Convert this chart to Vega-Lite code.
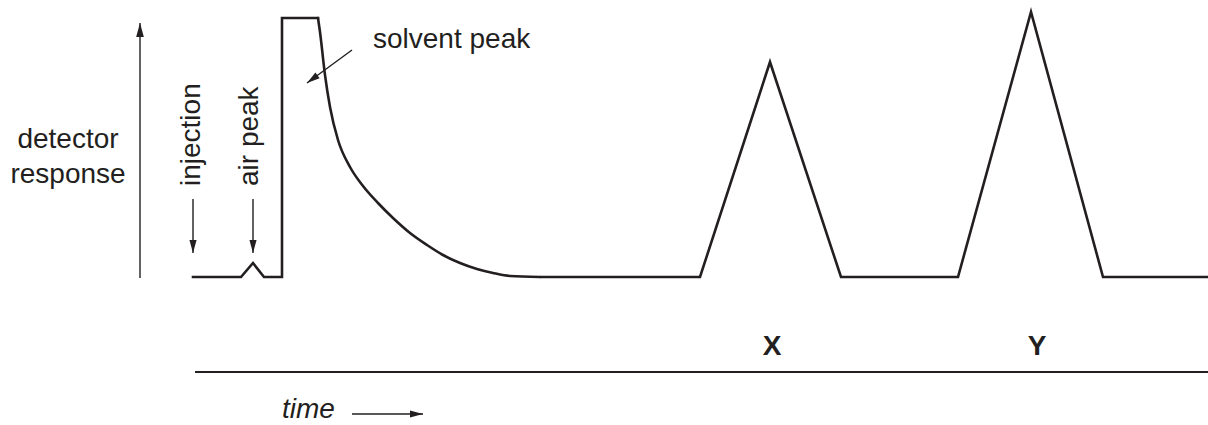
{
  "$schema": "https://vega.github.io/schema/vega-lite/v6.json",
  "width": 1208,
  "height": 425,
  "padding": 0,
  "autosize": {"type": "none"},
  "background": "white",
  "config": {"view": {"stroke": null}},
  "datasets": {
    "trace": [
      {"i": 1, "t": 193, "r": 0},
      {"i": 2, "t": 241, "r": 0},
      {"i": 3, "t": 253, "r": 14},
      {"i": 4, "t": 264, "r": 0},
      {"i": 5, "t": 282, "r": 0},
      {"i": 6, "t": 282, "r": 259},
      {"i": 7, "t": 318, "r": 259}
    ],
    "decay": [
      {"t": 318, "r": 259},
      {"t": 320, "r": 245},
      {"t": 325, "r": 202},
      {"t": 330, "r": 170},
      {"t": 338, "r": 137},
      {"t": 350, "r": 110},
      {"t": 363, "r": 91},
      {"t": 378, "r": 74},
      {"t": 393, "r": 59},
      {"t": 410, "r": 44},
      {"t": 427, "r": 32},
      {"t": 443, "r": 22},
      {"t": 460, "r": 14},
      {"t": 477, "r": 8},
      {"t": 493, "r": 4},
      {"t": 510, "r": 1},
      {"t": 540, "r": 0}
    ],
    "peaktrace": [
      {"t": 540, "r": 0},
      {"t": 700, "r": 0},
      {"t": 770, "r": 215},
      {"t": 841, "r": 0},
      {"t": 958, "r": 0},
      {"t": 1031, "r": 265},
      {"t": 1103, "r": 0},
      {"t": 1208, "r": 0}
    ],
    "arrows": [
      {"name": "response axis", "t": 140, "r": -1, "t2": 140, "r2": 254, "dir": "up"},
      {"name": "injection", "t": 193, "r": 78, "t2": 193, "r2": 24, "dir": "down"},
      {"name": "air peak", "t": 253, "r": 78, "t2": 253, "r2": 24, "dir": "down"},
      {"name": "time", "t": 352, "r": -137, "t2": 423, "r2": -137, "dir": "right"},
      {"name": "solvent peak", "t": 352, "r": 227, "t2": 307, "r2": 194, "dir": "diag"}
    ],
    "timeline": [
      {"t": 195, "r": -95, "t2": 1208, "r2": -95}
    ],
    "ylabel": [
      {"t": 68, "r": 129, "text": "detector"},
      {"t": 68, "r": 94, "text": "response"}
    ],
    "labels": [
      {"t": 373, "r": 229, "text": "solvent peak"}
    ],
    "vlabels": [
      {"t": 200, "r": 91, "text": "injection"},
      {"t": 258, "r": 91, "text": "air peak"}
    ],
    "peaks": [
      {"t": 772, "r": -78, "text": "X"},
      {"t": 1037, "r": -78, "text": "Y"}
    ],
    "axislabel": [
      {"t": 282, "r": -147, "text": "time"}
    ]
  },
  "encoding": {
    "x": {"field": "t", "type": "quantitative", "scale": {"domain": [0, 1208], "nice": false, "zero": false}, "axis": null},
    "y": {"field": "r", "type": "quantitative", "scale": {"domain": [-148, 277], "nice": false, "zero": false}, "axis": null}
  },
  "layer": [
    {
      "data": {"name": "trace"},
      "mark": {"type": "line", "color": "#231f20", "strokeWidth": 2.6, "strokeJoin": "miter", "strokeMiterLimit": 10, "strokeCap": "square"},
      "encoding": {"order": {"field": "i", "type": "quantitative"}}
    },
    {
      "data": {"name": "decay"},
      "mark": {"type": "line", "color": "#231f20", "strokeWidth": 2.6, "interpolate": "monotone", "strokeCap": "round"},
      "encoding": {}
    },
    {
      "data": {"name": "peaktrace"},
      "mark": {"type": "line", "color": "#231f20", "strokeWidth": 2.6, "strokeJoin": "miter", "strokeMiterLimit": 10, "strokeCap": "butt"},
      "encoding": {}
    },
    {
      "data": {"name": "timeline"},
      "mark": {"type": "rule", "color": "#231f20", "strokeWidth": 2},
      "encoding": {"x2": {"field": "t2"}, "y2": {"field": "r2"}}
    },
    {
      "data": {"name": "arrows"},
      "mark": {"type": "rule", "color": "#231f20", "strokeWidth": 1.4},
      "encoding": {"x2": {"field": "t2"}, "y2": {"field": "r2"}}
    },
    {
      "data": {"name": "arrows"},
      "transform": [{"filter": "datum.dir === 'up'"}],
      "mark": {"type": "point", "shape": "M0,0L0.55,2L-0.55,2Z", "filled": true, "opacity": 1, "color": "#231f20", "size": 196, "angle": 0, "strokeWidth": 0},
      "encoding": {"x": {"field": "t2", "type": "quantitative"}, "y": {"field": "r2", "type": "quantitative"}}
    },
    {
      "data": {"name": "arrows"},
      "transform": [{"filter": "datum.dir === 'down'"}],
      "mark": {"type": "point", "shape": "M0,0L0.55,2L-0.55,2Z", "filled": true, "opacity": 1, "color": "#231f20", "size": 169, "angle": 180, "strokeWidth": 0},
      "encoding": {"x": {"field": "t2", "type": "quantitative"}, "y": {"field": "r2", "type": "quantitative"}}
    },
    {
      "data": {"name": "arrows"},
      "transform": [{"filter": "datum.dir === 'right'"}],
      "mark": {"type": "point", "shape": "M0,0L0.55,2L-0.55,2Z", "filled": true, "opacity": 1, "color": "#231f20", "size": 169, "angle": 90, "strokeWidth": 0},
      "encoding": {"x": {"field": "t2", "type": "quantitative"}, "y": {"field": "r2", "type": "quantitative"}}
    },
    {
      "data": {"name": "arrows"},
      "transform": [{"filter": "datum.dir === 'diag'"}],
      "mark": {"type": "point", "shape": "M0,0L0.55,2L-0.55,2Z", "filled": true, "opacity": 1, "color": "#231f20", "size": 169, "angle": 234, "strokeWidth": 0},
      "encoding": {"x": {"field": "t2", "type": "quantitative"}, "y": {"field": "r2", "type": "quantitative"}}
    },
    {
      "data": {"name": "ylabel"},
      "mark": {"type": "text", "font": "Liberation Sans", "fontSize": 28, "color": "#231f20", "align": "center", "baseline": "alphabetic"},
      "encoding": {"text": {"field": "text"}}
    },
    {
      "data": {"name": "labels"},
      "mark": {"type": "text", "font": "Liberation Sans", "fontSize": 28, "color": "#231f20", "align": "left", "baseline": "alphabetic"},
      "encoding": {"text": {"field": "text"}}
    },
    {
      "data": {"name": "vlabels"},
      "mark": {"type": "text", "font": "Liberation Sans", "fontSize": 28, "color": "#231f20", "align": "left", "baseline": "alphabetic", "angle": 270},
      "encoding": {"text": {"field": "text"}}
    },
    {
      "data": {"name": "peaks"},
      "mark": {"type": "text", "font": "Liberation Sans", "fontSize": 28, "fontWeight": "bold", "color": "#231f20", "align": "center", "baseline": "alphabetic"},
      "encoding": {"text": {"field": "text"}}
    },
    {
      "data": {"name": "axislabel"},
      "mark": {"type": "text", "font": "Liberation Sans", "fontSize": 28, "fontStyle": "italic", "color": "#231f20", "align": "left", "baseline": "bottom"},
      "encoding": {"text": {"field": "text"}}
    }
  ]
}
